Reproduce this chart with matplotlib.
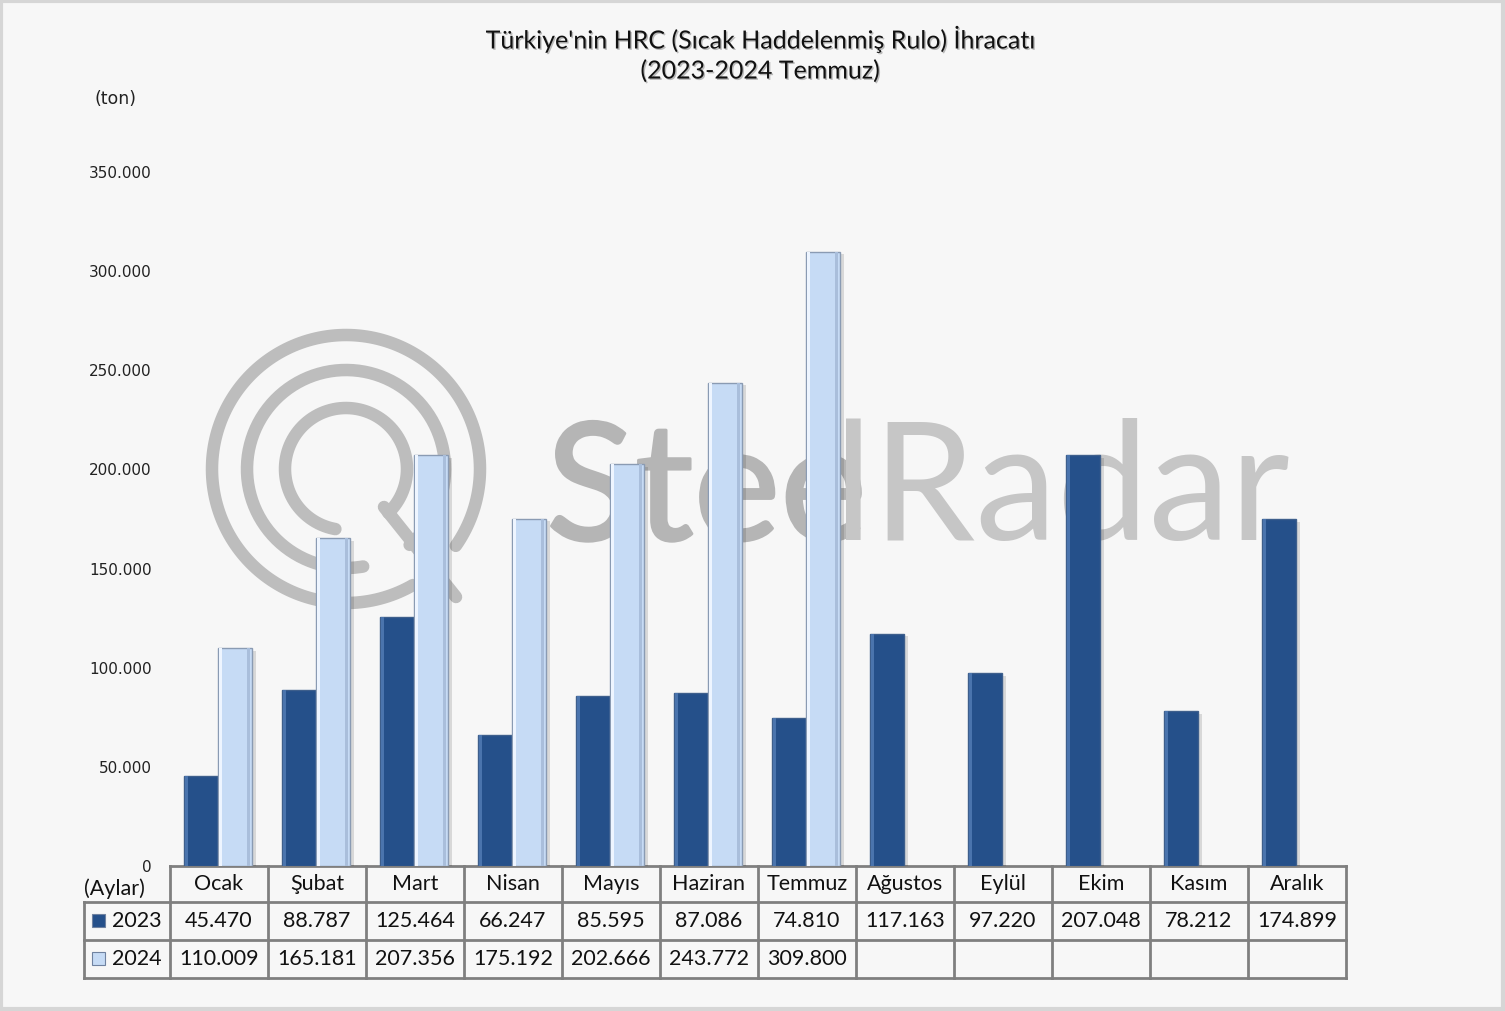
import numpy as np
import matplotlib
matplotlib.use('Agg')
import matplotlib.pyplot as plt
from matplotlib import patheffects as pe
from matplotlib.ticker import FuncFormatter

# ── Data ────────────────────────────────────────────────────────────────────
MONTHS = ['Ocak', 'Şubat', 'Mart', 'Nisan', 'Mayıs', 'Haziran', 'Temmuz',
          'Ağustos', 'Eylül', 'Ekim', 'Kasım', 'Aralık']
EXP_2023 = [45470, 88787, 125464, 66247, 85595, 87086, 74810,
            117163, 97220, 207048, 78212, 174899]
EXP_2024 = [110009, 165181, 207356, 175192, 202666, 243772, 309800]
SERIES = ['2023', '2024']
Y_TICKS = [0, 50000, 100000, 150000, 200000, 250000, 300000, 350000]

TITLE = "Türkiye'nin HRC (Sıcak Haddelenmiş Rulo) İhracatı\n(2023-2024 Temmuz)"

# ── Style ───────────────────────────────────────────────────────────────────
DARK = '#25508a'
LIGHT = '#c6dbf5'
BG = '#f7f7f7'
GRID_LINE = '#7f7f7f'
WM_COLOR = '#bdbdbd'
FONT = 'Lato'

W, H = 1505, 1011
X0, X1 = 170, 1346          # plot / table columns, pixels
Y_BOT, Y_TOP = 866, 172     # zero line and 350.000 line, pixels
ROW_H = [36, 38, 38]


def fmt_tr(v, _pos=None):
    return f'{int(v):,}'.replace(',', '.')


fig = plt.figure(figsize=(W / 100, H / 100), dpi=100)
fig.patch.set_facecolor(BG)

# overlay in pixel coordinates (watermark, table, frame)
ov = fig.add_axes([0, 0, 1, 1], zorder=0)
ov.set_xlim(0, W)
ov.set_ylim(H, 0)
ov.axis('off')
ov.patch.set_alpha(0)

# ── Watermark ──────────────────────────────────────────────────────────────
cx, cy = 346, 469
for r, a0, a1 in [(134, -35, 300), (99, -50, 280), (61, -46, 260)]:
    t = np.radians(np.linspace(a0, a1, 200))
    ov.plot(cx + r * np.cos(t), cy - r * np.sin(t), color=WM_COLOR,
            lw=9, solid_capstyle='round', zorder=0)
ov.plot([cx + 38, cx + 110], [cy + 38, cy + 128], color=WM_COLOR, lw=9,
        solid_capstyle='round', zorder=0)
ov.text(546, 540, 'Stee', fontsize=118, color='#b5b5b5', family=FONT,
        ha='left', va='baseline', zorder=0,
        path_effects=[pe.withStroke(linewidth=2, foreground='#b5b5b5')])
ov.text(1290, 540, 'lRadar', fontsize=118, color='#c6c6c6', family=FONT,
        ha='right', va='baseline', zorder=0)

# frame
ov.add_patch(plt.Rectangle((1, 1), W - 3, H - 3, fill=False,
                           ec='#d6d6d6', lw=3, zorder=5))

# ── Bars ───────────────────────────────────────────────────────────────────
ax = fig.add_axes([X0 / W, 1 - Y_BOT / H, (X1 - X0) / W, (Y_BOT - Y_TOP) / H],
                  zorder=2)
ax.patch.set_alpha(0)
x = np.arange(len(MONTHS))
bw = 0.345
x23 = x - 0.185
x24 = x[:len(EXP_2024)] + 0.16

shadow = [pe.SimplePatchShadow(offset=(3, -2), shadow_rgbFace='#000000',
                               alpha=0.12), pe.Normal()]
b1 = ax.bar(x23, EXP_2023, bw, color=DARK, edgecolor='#3e5f8c', lw=1.0,
            zorder=3)
b2 = ax.bar(x24, EXP_2024, bw, color=LIGHT, edgecolor='#8a9bb3', lw=1.0,
            zorder=3)
for b in list(b1) + list(b2):
    b.set_path_effects(shadow)
# bevel highlights
ax.bar(x23 - bw / 2 + 0.03, EXP_2023, 0.03, color='#4a74ad', lw=0, zorder=4)
ax.bar(x24 - bw / 2 + 0.03, EXP_2024, 0.03, color='#eef5ff', lw=0, zorder=4)
ax.bar(x24 + bw / 2 - 0.03, EXP_2024, 0.03, color='#a9bedb', lw=0, zorder=4)

ax.set_xlim(-0.5, len(MONTHS) - 0.5)
ax.set_ylim(0, 350000)
ax.set_yticks(Y_TICKS)
ax.yaxis.set_major_formatter(FuncFormatter(fmt_tr))
ax.tick_params(axis='y', length=0, pad=13, labelsize=11, labelcolor='#222222')
ax.set_xticks([])
for s in ax.spines.values():
    s.set_visible(False)

fig.text(95 / W, 1 - 99 / H, '(ton)', fontsize=12.5, ha='left', va='center',
         color='#222222')
fig.text(760 / W, 1 - 54 / H, TITLE, fontsize=18, family=FONT, ha='center',
         va='center', linespacing=1.35, color='#111111',
         path_effects=[pe.withSimplePatchShadow(offset=(1, -1), alpha=0.25)])

# ── Data table ─────────────────────────────────────────────────────────────
cw = (X1 - X0) / len(MONTHS)
y_rows = np.cumsum([Y_BOT] + ROW_H)
ts = 15.5
lc = dict(color=GRID_LINE, lw=2, zorder=6, solid_capstyle='projecting')

# horizontal lines
ov.plot([X0, X1], [y_rows[0]] * 2, **lc)
for yy in y_rows[1:]:
    ov.plot([84, X1], [yy] * 2, **lc)
# vertical lines
for i in range(len(MONTHS) + 1):
    ov.plot([X0 + i * cw] * 2, [y_rows[0], y_rows[-1]], **lc)
ov.plot([84, 84], [y_rows[1], y_rows[-1]], **lc)

ov.text(84, (y_rows[0] + y_rows[1]) / 2 + 5, '(Aylar)', fontsize=ts,
        family=FONT, ha='left', va='center', color='#111111', zorder=7)
for i, m in enumerate(MONTHS):
    xc = X0 + (i + 0.5) * cw
    ov.text(xc, (y_rows[0] + y_rows[1]) / 2, m, fontsize=ts, family=FONT,
            ha='center', va='center', color='#111111', zorder=7)

for r, (name, vals, col) in enumerate(zip(SERIES, [EXP_2023, EXP_2024],
                                          [DARK, LIGHT])):
    yc = (y_rows[r + 1] + y_rows[r + 2]) / 2
    ov.add_patch(plt.Rectangle((92, yc - 7), 13, 13, fc=col, ec='#6f82a0',
                               lw=0.8, zorder=7))
    ov.text(112, yc, name, fontsize=ts, family=FONT, ha='left', va='center',
            color='#111111', zorder=7)
    for i, v in enumerate(vals):
        ov.text(X0 + (i + 0.5) * cw, yc, fmt_tr(v), fontsize=ts, family=FONT,
                ha='center', va='center', color='#111111', zorder=7)

fig.savefig('out.png', dpi=100, facecolor=BG)
